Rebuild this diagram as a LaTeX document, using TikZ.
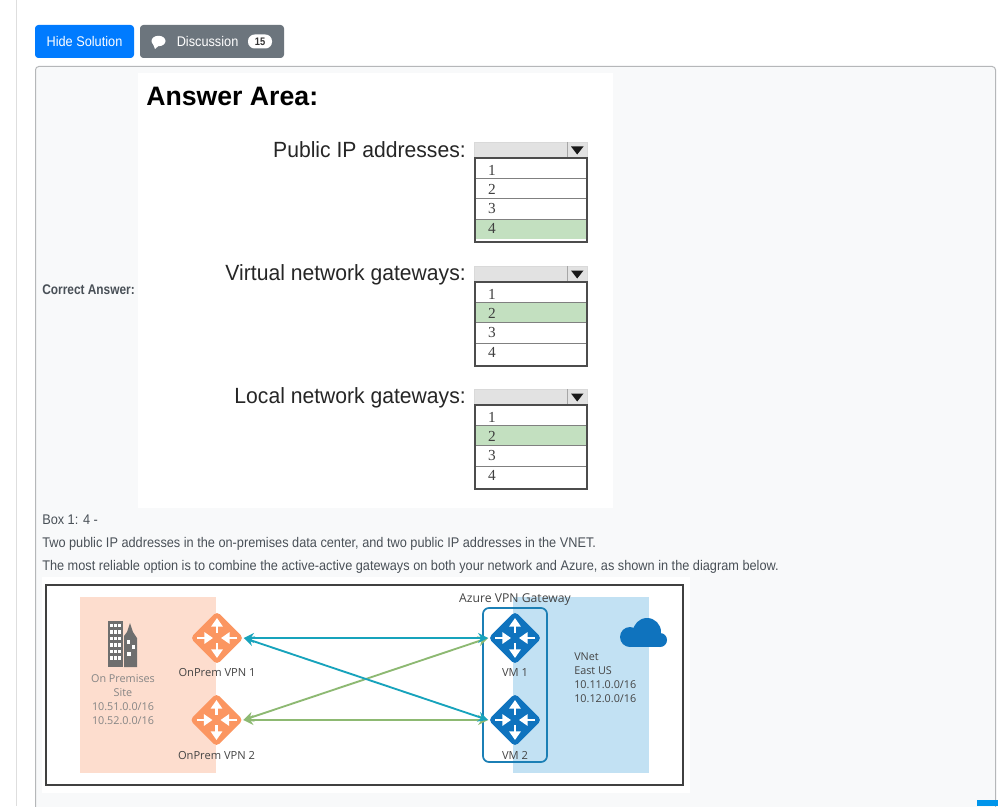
\documentclass[tikz,border=0pt]{standalone}
\usepackage{fontspec}
\setmainfont{Liberation Sans}
\newfontfamily\uifont[FakeStretch=0.91]{Liberation Sans}
\newfontfamily\uinarrow[FakeStretch=0.85]{Liberation Sans}
\newfontfamily\labelfont[FakeStretch=0.96]{Liberation Sans}
\newfontfamily\diagfont{Open Sans}
\newfontfamily\digitfont{Liberation Serif}
\usetikzlibrary{arrows.meta,shapes.geometric}
\definecolor{btnblue}{HTML}{007BFF}
\definecolor{btngrey}{HTML}{6C757D}
\definecolor{panelbg}{HTML}{F8F9FA}
\definecolor{panelline}{HTML}{B5B7B9}
\definecolor{peach}{HTML}{FDDDCE}
\definecolor{skyblue}{HTML}{C2E1F3}
\definecolor{orangeR}{HTML}{FB9661}
\definecolor{blueR}{HTML}{0F73BE}
\definecolor{gwline}{HTML}{1B7FB5}
\definecolor{teal}{HTML}{17A3BC}
\definecolor{greenL}{HTML}{8DB972}
\definecolor{rowgreen}{HTML}{C3E0C0}
\definecolor{hdrgrey}{HTML}{E2E2E2}
\definecolor{uitext}{HTML}{495057}
\definecolor{diagtext}{HTML}{444444}
\definecolor{sitetext}{HTML}{858585}
\definecolor{bldg}{HTML}{6E6E6E}
\definecolor{scrollblue}{HTML}{0095EB}
\tikzset{
  btn/.style={rectangle,rounded corners=2.5pt,minimum height=24.75pt,inner sep=0pt,text=white,font=\uifont\fontsize{10.5}{12}\selectfont},
  uitxt/.style={anchor=west,inner sep=0pt,text=uitext,font=\uifont\fontsize{10.5}{12}\selectfont},
  ddlabel/.style={anchor=base east,inner sep=0pt,text=black!85,font=\labelfont\fontsize{16.5}{20}\selectfont},
  digit/.style={inner sep=0pt,text=black!75,font=\digitfont\fontsize{11.5}{13}\selectfont},
  dtxt/.style={inner sep=0pt,text=diagtext,font=\diagfont\fontsize{8.35}{10}\selectfont},
  router/.style={shape=diamond,minimum width=40pt,minimum height=40pt,inner sep=0pt,rounded corners=3pt,fill=#1},
  conn/.style={line width=1.4pt,-{Stealth[length=7.5pt,width=7.5pt]}},
  wing/.style={white,line width=2pt,-{Triangle[length=6.5pt,width=8.5pt]}},
}
\newcommand{\routerat}[4]{%
  \node[router=#4] (#1) at (#2,#3) {};
  \draw[wing] (#2,#3-5) -- (#2,#3-20);
  \draw[wing] (#2,#3+5) -- (#2,#3+20);
  \draw[wing] (#2-20,#3) -- (#2-4,#3);
  \draw[wing] (#2+20,#3) -- (#2+4,#3);
}
\newcommand{\dropdown}[3]{% name, top y, green row 0..3
  \fill[hdrgrey] (474,#2) rectangle (587,#2+15);
  \draw[black!15,line width=.6pt] (474,#2) rectangle (587,#2+15);
  \draw[black!35,line width=.6pt] (567,#2) -- (567,#2+15);
  \fill[black!90] (571,#2+4.5) -- (583.5,#2+4.5) -- (577.2,#2+12.5) -- cycle;
  \fill[white] (475,#2+16) rectangle (587,#2+100);
  \fill[rowgreen] (475,#2+16+#3*20.3) rectangle (587,#2+16+#3*20.3+20.3);
  \foreach \k in {1,2,3}{\draw[black!50,line width=.6pt] (475,#2+16+\k*20.3) -- (587,#2+16+\k*20.3);}
  \draw[black!70,line width=1.3pt] (475,#2+16) rectangle (587,#2+100);
  \node[digit] (#1a) at (492,#2+28) {1};
  \node[digit] (#1b) at (492,#2+47) {2};
  \node[digit] (#1c) at (492,#2+66) {3};
  \node[digit] (#1d) at (492,#2+86) {4};
}
\begin{document}
\begin{tikzpicture}[x=0.75pt,y=-0.75pt]
\clip (0,0) rectangle (998,806);
\fill[white] (0,0) rectangle (998,806);
\draw[black!13,line width=.75pt] (16.5,0) -- (16.5,806);
% buttons
\node[btn,fill=btnblue,minimum width=74.25pt] (hide) at (84.5,41.5) {Hide Solution};
\node[btn,fill=btngrey,minimum width=108pt] (disc) at (212,41.5) {};
\fill[white] (158.5,41) ellipse (7 and 5.2);
\fill[white] (153,44) -- (155,49) -- (159,45.5) -- cycle;
\node[uitxt,text=white] (disctxt) at (176.5,41) {Discussion};
\node[fill=white,rounded corners=5pt,minimum width=18pt,minimum height=10.5pt,inner sep=0pt,text=black!80,font=\uinarrow\bfseries\fontsize{8.2}{9}\selectfont] (badge) at (260,41.5) {15};
% panel
\draw[panelline,fill=panelbg,rounded corners=2.5pt,line width=.75pt] (35.5,66.5) rectangle (995.5,840);
% answer image
\fill[white] (138,73) rectangle (613,508);
\node[anchor=west,inner sep=0pt,text=black,font=\bfseries\fontsize{20}{24}\selectfont] (area) at (146,96) {Answer Area:};
\node[ddlabel] (l1) at (466,157.5) {Public IP addresses:};
\node[ddlabel] (l2) at (466,280) {Virtual network gateways:};
\node[ddlabel] (l3) at (466,403.5) {Local network gateways:};
\dropdown{p}{142}{3}
\dropdown{v}{266}{1}
\dropdown{n}{389}{1}
\node[uitxt,font=\uinarrow\bfseries\fontsize{10.5}{12}\selectfont] (correct) at (42,289.5) {Correct Answer:};
\node[uitxt] (box) at (42,520) {Box 1: 4 -};
\node[uitxt] (t1) at (42,543.5) {Two public IP addresses in the on-premises data center, and two public IP addresses in the VNET.};
\node[uitxt] (t2) at (42,566.5) {The most reliable option is to combine the active-active gateways on both your network and Azure, as shown in the diagram below.};
% diagram image
\fill[white] (42,577) rectangle (690,793);
\draw[black!75,line width=1pt] (46,585) rectangle (683,785);
\fill[peach] (80,597) rectangle (216,773);
\fill[skyblue] (513,597) rectangle (649,773);
\draw[gwline,line width=1.3pt,rounded corners=4.5pt] (483,608) rectangle (547,762);
% building
\fill[bldg] (108,621) rectangle (123,667);
\foreach \yy in {623.5,630,636.5,643,649.5,656}{\foreach \xx in {110,114.2,118.4}{\fill[white] (\xx,\yy) rectangle +(2.9,3.6);}}
\fill[bldg] (124,667) -- (124,636) -- (127,632) -- (130,623) -- (133,632) -- (137,638) -- (137,667) -- cycle;
\fill[white] (126.5,640) rectangle +(3.5,3.5);
\fill[white] (131.5,645) rectangle +(3.5,3.5);
\fill[white] (127,652) rectangle +(3.5,3.5);
% cloud
\fill[blueR] (630,637) circle (10);
\fill[blueR] (647,632) circle (14);
\fill[blueR] (660,640) circle (7);
\fill[blueR] (630,633) rectangle (660,647);
% routers
\routerat{on1}{217}{638}{orangeR}
\routerat{on2}{216.5}{720}{orangeR}
\routerat{vm1}{515}{638}{blueR}
\routerat{vm2}{515}{720}{blueR}
% connectors
\draw[conn,greenL,{Stealth[length=7.5pt,width=7.5pt]}-{Stealth[length=7.5pt,width=7.5pt]}] (on2.east) -- (vm1.west);
\draw[conn,greenL,{Stealth[length=7.5pt,width=7.5pt]}-{Stealth[length=7.5pt,width=7.5pt]}] (on2.east) -- (vm2.west);
\draw[conn,teal,{Stealth[length=7.5pt,width=7.5pt]}-{Stealth[length=7.5pt,width=7.5pt]}] (on1.east) -- (vm1.west);
\draw[conn,teal,{Stealth[length=7.5pt,width=7.5pt]}-{Stealth[length=7.5pt,width=7.5pt]}] (on1.east) -- (vm2.west);
% labels
\node[dtxt] (onl1) at (217,672.5) {OnPrem VPN 1};
\node[dtxt] (onl2) at (216.5,755.5) {OnPrem VPN 2};
\node[dtxt] (vml1) at (515,672.5) {VM 1};
\node[dtxt] (vml2) at (515,755.5) {VM 2};
\node[dtxt,font=\diagfont\fontsize{9.15}{10}\selectfont] (gw) at (515,599.5) {Azure VPN Gateway};
\node[dtxt,text=sitetext,align=center,font=\diagfont\fontsize{8.1}{10.5}\selectfont] (site) at (123,699.5) {On Premises\\Site\\10.51.0.0/16\\10.52.0.0/16};
\node[dtxt,anchor=west,align=left,font=\diagfont\fontsize{8.1}{10.5}\selectfont] (vnet) at (574,678) {VNet\\East US\\10.11.0.0/16\\10.12.0.0/16};
\fill[scrollblue] (977,800) rectangle (998,806);
\end{tikzpicture}
\end{document}
